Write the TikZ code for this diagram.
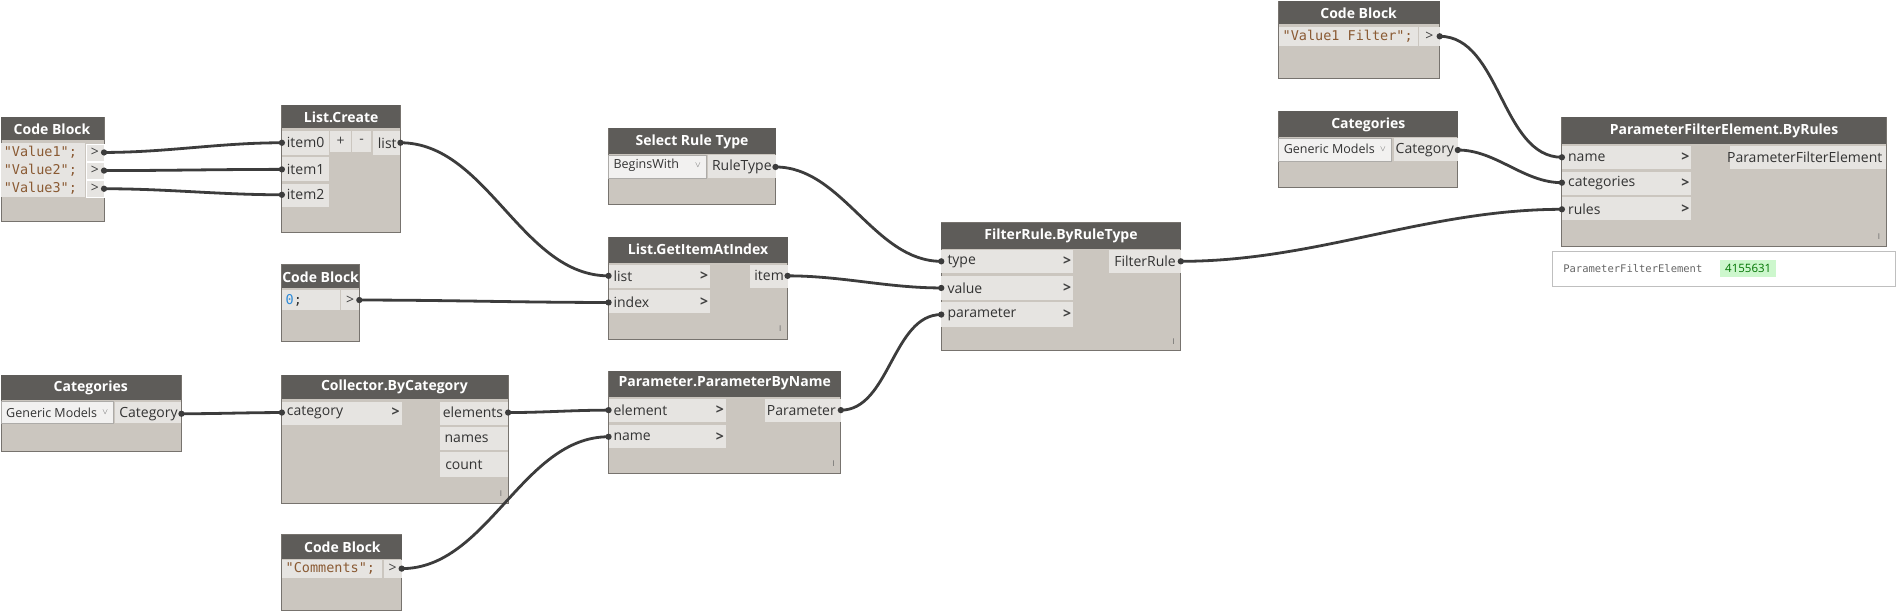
\documentclass[tikz,border=0pt]{standalone}
\usepackage{fontspec}
\setmainfont{Open Sans}
\setmonofont{DejaVu Sans Mono}
\definecolor{headgray}{HTML}{5E5C59}
\definecolor{bodygray}{HTML}{CBC6BF}
\definecolor{rowgray}{HTML}{E6E4E1}
\definecolor{dropgray}{HTML}{F2F1F0}
\definecolor{edgegray}{HTML}{77736E}
\definecolor{wiregray}{HTML}{3C3C3C}
\definecolor{strbrown}{HTML}{8A5A33}
\definecolor{numblue}{HTML}{2F8BD8}
\definecolor{okgreen}{HTML}{CDF7CD}
\newcommand\lblfont{\fontsize{14}{16}\selectfont}
\newcommand\codefont{\ttfamily\fontsize{13.5}{16}\selectfont}
\tikzset{
  body/.style={fill=bodygray, draw=edgegray, line width=1pt},
  headbar/.style={fill=headgray},
  title/.style={text=white, font=\fontsize{14}{16}\selectfont\bfseries, inner sep=0pt},
  row/.style={fill=rowgray},
  drop/.style={fill=dropgray, draw=edgegray!60, line width=0.6pt},
  lbl/.style={font=\lblfont, text=black!80, inner sep=0pt, anchor=west},
  olbl/.style={font=\lblfont, text=black!80, inner sep=0pt, anchor=east},
  code/.style={font=\codefont, text=strbrown, inner sep=0pt, anchor=west},
  chev/.style={font=\lblfont\bfseries, text=black!75, inner sep=0pt},
  tick/.style={font=\fontsize{8}{9}\selectfont, text=black!60, inner sep=0pt},
  wire/.style={draw=wiregray, line width=2.8pt, out=0, in=180, looseness=0.9},
}
\begin{document}
\begin{tikzpicture}[x=1.21pt, y=-1.21pt]
\useasboundingbox (0,0) rectangle (1568,506);

% code block with three values
\draw[body] (1,97) rectangle (86,183);
\fill[headbar] (1,97) rectangle (86,116);
\node(CBvT)[title] at (43,107) {Code Block};
\fill[row] (1,118) rectangle (70,163);
\foreach \y/\t in {126/Value1, 141/Value2, 156/Value3}{
  \fill[row, draw=white] (71,\y-7) rectangle (86,\y+7);
  \node[code] at (3,\y) {"\t";};
  \node[chev, font=\lblfont] at (78.5,\y) {>};
}
\coordinate(CBv1) at (86,126);
\coordinate(CBv2) at (86,141);
\coordinate(CBv3) at (86,156);

% list create
\draw[body] (233,87) rectangle (331,192);
\fill[headbar] (233,87) rectangle (331,106);
\node(LCT)[title] at (282,97) {List.Create};
\fill[row] (233,108) rectangle (272,128);
\fill[row] (233,130) rectangle (272,150);
\fill[row] (233,152) rectangle (272,171);
\fill[row] (273,108) rectangle (290,126);
\fill[row] (291,108) rectangle (307,126);
\fill[row] (308,108) rectangle (331,128);
\node[lbl] at (237,118) {item0};
\node[lbl] at (237,140) {item1};
\node[lbl] at (237,161) {item2};
\node[chev, font=\lblfont] at (281.5,117) {+};
\node[chev, font=\lblfont] at (299,117) {-};
\node[olbl] at (328,118) {list};
\coordinate(LCi0) at (233,118);
\coordinate(LCi1) at (233,140);
\coordinate(LCi2) at (233,161);
\coordinate(LCo) at (331,118);

% code block zero
\draw[body] (233,219) rectangle (297,282);
\fill[headbar] (233,219) rectangle (297,238);
\node(CB0T)[title] at (265,229) {Code Block};
\fill[row] (233,240) rectangle (281,256);
\fill[row] (282,240) rectangle (297,256);
\node[code, text=numblue] at (236,248) {0\textcolor{black!80}{;}};
\node[chev, font=\lblfont] at (289.5,248) {>};
\coordinate(CB0) at (297,248);

% categories left
\draw[body] (1,310) rectangle (150,373);
\fill[headbar] (1,310) rectangle (150,331);
\node(CatLT)[title] at (75,321) {Categories};
\fill[drop] (1,332) rectangle (94,350);
\fill[row] (95,332) rectangle (150,350);
\node[lbl, font=\fontsize{12.5}{14}\selectfont] at (5,341) {Generic Models};
\node[tick] at (87,341) {$\vee$};
\node[olbl] at (147,342) {Category};
\coordinate(CatL) at (150,342);

% collector
\draw[body] (233,310) rectangle (420,416);
\fill[headbar] (233,310) rectangle (420,330);
\node(ColT)[title] at (326,320) {Collector.ByCategory};
\fill[row] (233,332) rectangle (332,351);
\fill[row] (364,332) rectangle (420,351);
\fill[row] (364,353) rectangle (420,372);
\fill[row] (364,374) rectangle (420,394);
\node[lbl] at (237,341) {category};
\node[chev] at (327,341) {>};
\node[olbl] at (416,341) {elements};
\node[olbl] at (404,363) {names};
\node[olbl] at (399,384) {count};
\node[tick] at (414,408) {I};
\coordinate(ColI) at (233,341);
\coordinate(ColO) at (420,341);

% code block comments
\draw[body] (233,442) rectangle (332,505);
\fill[headbar] (233,442) rectangle (332,462);
\node(CBcT)[title] at (283,452) {Code Block};
\fill[row] (233,463) rectangle (316,478);
\fill[row] (317,463) rectangle (332,478);
\node[code] at (236,470) {"Comments";};
\node[chev, font=\lblfont] at (324.5,470) {>};
\coordinate(CBc) at (332,470);

% select rule type
\draw[body] (503,106) rectangle (641,169);
\fill[headbar] (503,106) rectangle (641,127);
\node(SRTT)[title] at (572,117) {Select Rule Type};
\fill[drop] (503,128) rectangle (584,147);
\fill[row] (585,128) rectangle (641,147);
\node[lbl, font=\fontsize{12.5}{14}\selectfont] at (507,137) {BeginsWith};
\node[tick] at (577,137) {$\vee$};
\node[olbl] at (638,138) {RuleType};
\coordinate(SRT) at (641,138);

% get item at index
\draw[body] (503,196) rectangle (651,281);
\fill[headbar] (503,196) rectangle (651,217);
\node(GIAT)[title] at (577,206) {List.GetItemAtIndex};
\fill[row] (503,219) rectangle (587,238);
\fill[row] (503,240) rectangle (587,259);
\fill[row] (620,219) rectangle (651,238);
\node[lbl] at (507,228) {list};
\node[lbl] at (507,250) {index};
\node[chev] at (582,228) {>};
\node[chev] at (582,250) {>};
\node[olbl] at (648,228) {item};
\node[tick] at (645,272) {I};
\coordinate(GIAl) at (503,228);
\coordinate(GIAi) at (503,250);
\coordinate(GIAo) at (651,228);

% parameter by name
\draw[body] (503,307) rectangle (695,391);
\fill[headbar] (503,307) rectangle (695,328);
\node(PBNT)[title] at (599,317) {Parameter.ParameterByName};
\fill[row] (503,330) rectangle (600,349);
\fill[row] (503,351) rectangle (600,370);
\fill[row] (632,330) rectangle (695,349);
\node[lbl] at (507,339) {element};
\node[lbl] at (507,361) {name};
\node[chev] at (595,339) {>};
\node[chev] at (595,361) {>};
\node[olbl] at (691,339) {Parameter};
\node[tick] at (689,383) {I};
\coordinate(PBNe) at (503,339);
\coordinate(PBNn) at (503,361);
\coordinate(PBNo) at (695,339);

% filter rule
\draw[body] (778,184) rectangle (976,290);
\fill[headbar] (778,184) rectangle (976,206);
\node(FRT)[title] at (877,195) {FilterRule.ByRuleType};
\fill[row] (778,207) rectangle (887,226);
\fill[row] (778,228) rectangle (887,248);
\fill[row] (778,250) rectangle (887,270);
\fill[row] (917,207) rectangle (976,226);
\node[lbl] at (783,216) {type};
\node[lbl] at (783,238) {value};
\node[lbl] at (783,260) {parameter};
\node[chev] at (882,216) {>};
\node[chev] at (882,238) {>};
\node[chev] at (882,260) {>};
\node[olbl] at (972,216) {FilterRule};
\node[tick] at (970,282) {I};
\coordinate(FRt) at (778,216);
\coordinate(FRv) at (778,238);
\coordinate(FRp) at (778,260);
\coordinate(FRo) at (976,216);

% code block filter name
\draw[body] (1057,1) rectangle (1190,65);
\fill[headbar] (1057,1) rectangle (1190,20);
\node(CBfT)[title] at (1123,11) {Code Block};
\fill[row] (1057,22) rectangle (1172,38);
\fill[row] (1173,22) rectangle (1190,38);
\node[code] at (1060,30) {"Value1 Filter";};
\node[chev, font=\lblfont] at (1181.5,30) {>};
\coordinate(CBf) at (1190,30);

% categories right
\draw[body] (1057,92) rectangle (1205,155);
\fill[headbar] (1057,92) rectangle (1205,113);
\node(CatRT)[title] at (1131,103) {Categories};
\fill[drop] (1057,114) rectangle (1150,133);
\fill[row] (1152,114) rectangle (1205,133);
\node[lbl, font=\fontsize{12.5}{14}\selectfont] at (1061,123) {Generic Models};
\node[tick] at (1143,123) {$\vee$};
\node[olbl] at (1202,124) {Category};
\coordinate(CatR) at (1205,124);

% parameter filter element
\draw[body] (1291,97) rectangle (1559,204);
\fill[headbar] (1291,97) rectangle (1559,119);
\node(PFET)[title] at (1425,108) {ParameterFilterElement.ByRules};
\fill[row] (1291,121) rectangle (1398,140);
\fill[row] (1291,142) rectangle (1398,161);
\fill[row] (1291,163) rectangle (1398,182);
\fill[row] (1430,121) rectangle (1559,140);
\node[lbl] at (1296,130) {name};
\node[lbl] at (1296,151) {categories};
\node[lbl] at (1296,173) {rules};
\node[chev] at (1393,130) {>};
\node[chev] at (1393,151) {>};
\node[chev] at (1393,173) {>};
\node[olbl] at (1556,130) {ParameterFilterElement};
\node[tick] at (1553,196) {I};
\coordinate(PFEn) at (1291,130);
\coordinate(PFEc) at (1291,151);
\coordinate(PFEr) at (1291,173);

% watch output
\draw[fill=white, draw=black!25, line width=1pt] (1283,208) rectangle (1567,237);
\node(WatchT)[font=\ttfamily\fontsize{10.5}{12}\selectfont, text=black!60, inner sep=0pt, anchor=west] at (1292,222) {ParameterFilterElement};
\fill[okgreen] (1422,215) rectangle (1468,229);
\node(WatchV)[font=\fontsize{11.5}{13}\selectfont, text=green!45!black, inner sep=0pt] at (1445,222) {4155631};

% wires
\draw[wire] (CBv1) to (LCi0);
\draw[wire] (CBv2) to (LCi1);
\draw[wire] (CBv3) to (LCi2);
\draw[wire] (LCo) to (GIAl);
\draw[wire] (CB0) to (GIAi);
\draw[wire] (CatL) to (ColI);
\draw[wire] (ColO) to (PBNe);
\draw[wire] (CBc) to (PBNn);
\draw[wire] (SRT) to (FRt);
\draw[wire] (GIAo) to (FRv);
\draw[wire] (PBNo) to (FRp);
\draw[wire] (FRo) to (PFEr);
\draw[wire] (CBf) to (PFEn);
\draw[wire] (CatR) to (PFEc);
\foreach \p in {CBv1,CBv2,CBv3,LCi0,LCi1,LCi2,LCo,CB0,GIAl,GIAi,GIAo,CatL,ColI,ColO,CBc,PBNe,PBNn,PBNo,SRT,FRt,FRv,FRp,FRo,CBf,CatR,PFEn,PFEc,PFEr}
  \fill[wiregray] (\p) circle (2.6);
\end{tikzpicture}
\end{document}
